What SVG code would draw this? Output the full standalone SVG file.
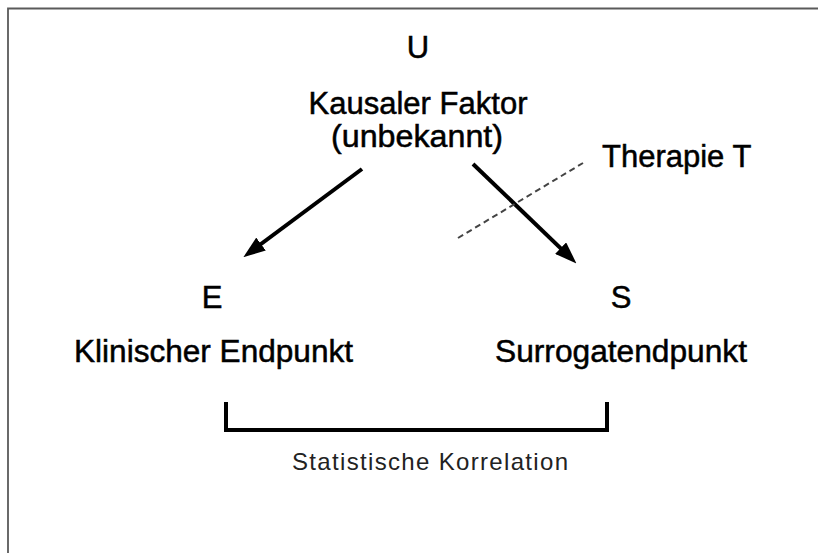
<svg xmlns="http://www.w3.org/2000/svg" width="818" height="553" viewBox="0 0 818 553">
  <style>
    .lbl { font-family: "Liberation Sans", Arial, sans-serif; font-size: 31px; fill: #000; stroke: #000; stroke-width: 0.5; text-anchor: middle; }
    .note { font-family: "Liberation Sans", Arial, sans-serif; font-size: 24px; fill: #222; text-anchor: middle; }
    .arrow { stroke: #000; stroke-width: 4; fill: none; marker-end: url(#head); }
  </style>
  <defs>
    <marker id="head" markerUnits="userSpaceOnUse" markerWidth="22" markerHeight="16" viewBox="0 0 22 16" refX="10" refY="8" orient="auto">
      <path d="M0,0 L22,8 L0,16 z" fill="#000"/>
    </marker>
  </defs>
  <rect width="818" height="553" fill="#fff"/>
  <g id="frame">
    <path d="M8,553 V8.5 H818" fill="none" stroke="#5a5a5a" stroke-width="1.8"/>
  </g>
  <g id="connectors">
    <line class="arrow" x1="362" y1="169" x2="253" y2="250"/>
    <line class="arrow" x1="473" y1="164" x2="567.8" y2="255.1"/>
    <line x1="458" y1="238" x2="583" y2="163" stroke="#444" stroke-width="2" stroke-dasharray="6,4"/>
    <path d="M226,402 V430 H607 V402" fill="none" stroke="#000" stroke-width="4"/>
  </g>
  <g id="node-U">
    <text class="lbl" x="418" y="58">U</text>
    <text class="lbl" x="418" y="114" textLength="219" lengthAdjust="spacingAndGlyphs">Kausaler Faktor</text>
    <text class="lbl" x="417" y="147" textLength="172" lengthAdjust="spacingAndGlyphs">(unbekannt)</text>
  </g>
  <g id="node-E">
    <text class="lbl" x="212" y="308">E</text>
    <text class="lbl" x="213.5" y="362" textLength="279" lengthAdjust="spacingAndGlyphs">Klinischer Endpunkt</text>
  </g>
  <g id="node-S">
    <text class="lbl" x="621" y="308">S</text>
    <text class="lbl" x="621" y="362" textLength="252" lengthAdjust="spacingAndGlyphs">Surrogatendpunkt</text>
  </g>
  <g id="node-T">
    <text class="lbl" x="602" y="167" style="text-anchor:start">Therapie T</text>
  </g>
  <g id="correlation">
    <text class="note" x="430" y="470" textLength="276" lengthAdjust="spacing">Statistische Korrelation</text>
  </g>
</svg>
